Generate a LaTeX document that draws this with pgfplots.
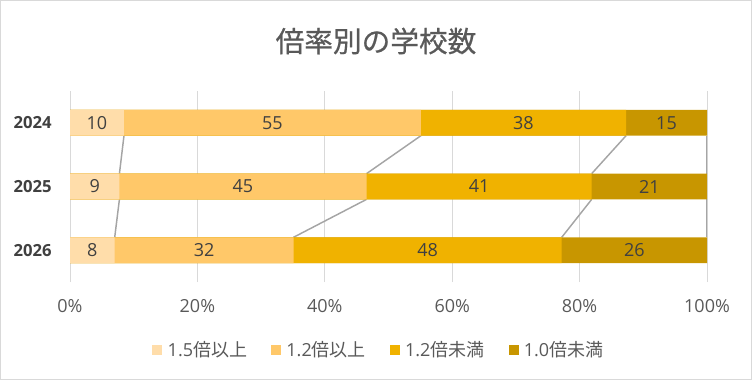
\documentclass[border=0pt]{standalone}
\usepackage{fontspec}
\setmainfont{Open Sans}
\newfontfamily\jp{Noto Sans CJK JP}
\newfontfamily\jpt[FakeBold=0.6]{Noto Sans CJK JP}
\usepackage{pgfplots}
\usepackage{pgfplotstable}
\pgfplotsset{compat=1.18}
\definecolor{cA}{HTML}{FFDDAA}
\definecolor{cB}{HTML}{FFC869}
\definecolor{cC}{HTML}{F0B200}
\definecolor{cD}{HTML}{C89600}
\definecolor{gridc}{HTML}{D9D9D9}
\definecolor{txt}{HTML}{595959}
\definecolor{dark}{HTML}{404040}
\definecolor{serl}{HTML}{A5A5A5}

% counts per year (pos 2 = 2024 at top)
\pgfplotstableread{
pos a b c d
2 10 55 38 15
1 9 45 41 21
0 8 32 48 26
}\data

\begin{document}
\begin{tikzpicture}
\useasboundingbox (0,0) rectangle (564pt,285pt);
\draw[draw=gridc, line width=1pt] (0.5pt,0.5pt) rectangle (563.5pt,284.5pt);
\node[font=\jpt\fontsize{21.5pt}{26pt}\selectfont, text=txt] at (282pt,254.25pt) {倍率別の学校数};
\begin{axis}[
  at={(52.5pt,73.5pt)}, anchor=south west,
  scale only axis, width=477.75pt, height=143.25pt,
  xmin=0, xmax=100, ymin=-0.5, ymax=2.5,
  xtick={0,20,...,100}, ytick={0,1,2},
  yticklabels={2026,2025,2024},
  xticklabel={\pgfmathprintnumber{\tick}\%},
  /pgf/number format/assume math mode=true,
  xmajorgrids, major grid style={draw=gridc, line width=0.75pt},
  axis line style={draw=none}, tick style={draw=none},
  xticklabel style={font=\fontsize{13.5pt}{16pt}\selectfont, text=txt, anchor=base, yshift=-22.9pt},
  yticklabel style={font=\bfseries\fontsize{12.5pt}{15pt}\selectfont, text=dark, anchor=east, inner sep=0pt, xshift=-13.5pt},
  unbounded coords=jump,
  legend image code/.code={\fill[#1] (0pt,-3.75pt) rectangle (7.5pt,3.75pt);},
  legend style={at={(0.4874,-0.356)}, anchor=center, draw=none, fill=none,
    font=\fontsize{13.5pt}{16pt}\selectfont, text=txt,
    nodes={inner xsep=4pt},
    /tikz/every even column/.append style={column sep=14pt}},
  legend columns=4,
  barsty/.style={xbar, bar width=19.3pt, draw=none, bar shift=0pt, forget plot},
  lblsty/.style={draw=none, only marks, mark=none, forget plot, nodes near coords,
    point meta=explicit symbolic,
    every node near coord/.append style={anchor=center, font=\fontsize{13.5pt}{16pt}\selectfont, text=dark}},
  serline/.style={draw=serl, line width=1.1pt, forget plot},
]
% series lines (cumulative percentage boundaries)
\addplot[serline] table[row sep=\\] {x y\\ 8.4746 1.798\\ 7.7586 1.202\\ nan nan\\ 7.7586 0.798\\ 7.0175 0.202\\};
\addplot[serline] table[row sep=\\] {x y\\ 55.0847 1.798\\ 46.5517 1.202\\ nan nan\\ 46.5517 0.798\\ 35.0877 0.202\\};
\addplot[serline] table[row sep=\\] {x y\\ 87.2881 1.798\\ 81.8966 1.202\\ nan nan\\ 81.8966 0.798\\ 77.1930 0.202\\};
\addplot[serline] table[row sep=\\] {x y\\ 100 1.798\\ 100 1.202\\ nan nan\\ 100 0.798\\ 100 0.202\\};
% bars (100% stacked, drawn as overlapping cumulative bars)
\addplot[barsty, fill=cD] table[y=pos, x expr=100] {\data};
\addplot[barsty, fill=cC] table[y=pos, x expr=(\thisrow{a}+\thisrow{b}+\thisrow{c})/(\thisrow{a}+\thisrow{b}+\thisrow{c}+\thisrow{d})*100] {\data};
\addplot[barsty, fill=cB] table[y=pos, x expr=(\thisrow{a}+\thisrow{b})/(\thisrow{a}+\thisrow{b}+\thisrow{c}+\thisrow{d})*100] {\data};
\addplot[barsty, fill=cA] table[y=pos, x expr=\thisrow{a}/(\thisrow{a}+\thisrow{b}+\thisrow{c}+\thisrow{d})*100] {\data};
% data labels
\addplot[lblsty] table[y=pos, meta=a, x expr=(\thisrow{a}/2)/(\thisrow{a}+\thisrow{b}+\thisrow{c}+\thisrow{d})*100] {\data};
\addplot[lblsty] table[y=pos, meta=b, x expr=(\thisrow{a}+\thisrow{b}/2)/(\thisrow{a}+\thisrow{b}+\thisrow{c}+\thisrow{d})*100] {\data};
\addplot[lblsty] table[y=pos, meta=c, x expr=(\thisrow{a}+\thisrow{b}+\thisrow{c}/2)/(\thisrow{a}+\thisrow{b}+\thisrow{c}+\thisrow{d})*100] {\data};
\addplot[lblsty] table[y=pos, meta=d, x expr=(\thisrow{a}+\thisrow{b}+\thisrow{c}+\thisrow{d}/2)/(\thisrow{a}+\thisrow{b}+\thisrow{c}+\thisrow{d})*100] {\data};
% legend
\addlegendimage{fill=cA, draw=none}\addlegendentry{1.5{\jp 倍以上}}
\addlegendimage{fill=cB, draw=none}\addlegendentry{1.2{\jp 倍以上}}
\addlegendimage{fill=cC, draw=none}\addlegendentry{1.2{\jp 倍未満}}
\addlegendimage{fill=cD, draw=none}\addlegendentry{1.0{\jp 倍未満}}
\end{axis}
\end{tikzpicture}
\end{document}
